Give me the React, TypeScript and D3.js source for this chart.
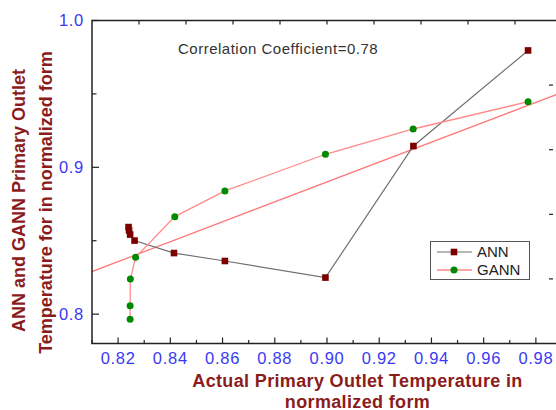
import * as d3 from "d3";
import React from "react";

// values
const annX = [0.824, 0.8242, 0.8246, 0.8263, 0.8414, 0.8609, 0.8994, 0.9331, 0.977];
const annY = [0.8593, 0.857, 0.8542, 0.8501, 0.8416, 0.8362, 0.8249, 0.9145, 0.9796];
const gannX = [0.8246, 0.8246, 0.8247, 0.8267, 0.8417, 0.8609, 0.8994, 0.933, 0.977];
const gannY = [0.7965, 0.8057, 0.8239, 0.8387, 0.8664, 0.8839, 0.9089, 0.9261, 0.9447];
const fitX = [0.81, 0.99];
const fitY = [0.829, 0.951];

const xMajor = [0.82, 0.84, 0.86, 0.88, 0.9, 0.92, 0.94, 0.96, 0.98];
const xMinor = [0.81, 0.83, 0.85, 0.87, 0.89, 0.91, 0.93, 0.95, 0.97];
const yMajor = [0.8, 0.9, 1.0];
const yMinor = [0.85, 0.95];

const width = 556;
const height = 410;
const font = "'Liberation Sans', Arial, sans-serif";
const titleColor = "#8b1c1c";
const tickColor = "#3a3af2";

export default function App() {
  const x = d3.scaleLinear().domain([0.81, 0.99]).range([92, 562]);
  const y = d3.scaleLinear().domain([0.78, 1.0]).range([343.5, 20.5]);
  // top / right axes of the frame carry plain division ticks
  const xTop = d3.scaleLinear().domain([0, 10]).range([92, 562]);
  const yRight = d3.scaleLinear().domain([0, 5]).range([343.5, 20.5]);

  const ann = annX.map((v, i) => [v, annY[i]] as [number, number]);
  const gann = gannX.map((v, i) => [v, gannY[i]] as [number, number]);
  const fit = fitX.map((v, i) => [v, fitY[i]] as [number, number]);

  const line = d3.line<[number, number]>()
    .x(d => x(d[0]))
    .y(d => y(d[1]));

  const [x0, x1] = x.range();
  const [yb, yt] = y.range();

  return (
    <svg width={width} height={height}
      style={{ position: "absolute", left: 0, top: 0, background: "#fff" }}
      fontFamily={font}>
      <defs>
        <clipPath id="plot">
          <rect x={x0} y={yt} width={x1 - x0} height={yb - yt} />
        </clipPath>
      </defs>

      <g clipPath="url(#plot)">
        <path d={line(fit) || ""} fill="none" stroke="#ff7b7b" strokeWidth={1.3} />
        <path d={line(ann) || ""} fill="none" stroke="#707070" strokeWidth={1.2} />
        <path d={line(gann) || ""} fill="none" stroke="#ff8a8a" strokeWidth={1.3} />
        {ann.map((d, i) => (
          <rect key={"a" + i} x={x(d[0]) - 3.3} y={y(d[1]) - 3.3} width={6.6} height={6.6} fill="#7d0000" />
        ))}
        {gann.map((d, i) => (
          <circle key={"g" + i} cx={x(d[0])} cy={y(d[1])} r={3.5} fill="#008a00" />
        ))}
      </g>

      {/* frame */}
      <path d={`M${x1},${yt}H${x0}V${yb}H${x1}`} fill="none" stroke="#222" strokeWidth={1.5} />

      {/* bottom ticks */}
      {xMajor.map(v => (
        <line key={"xM" + v} x1={x(v)} x2={x(v)} y1={yb} y2={yb - 6} stroke="#222" strokeWidth={1.2} />
      ))}
      {xMinor.map(v => (
        <line key={"xm" + v} x1={x(v)} x2={x(v)} y1={yb} y2={yb - 3.5} stroke="#222" strokeWidth={1.2} />
      ))}
      {xMajor.map(v => (
        <text key={"xl" + v} x={x(v)} y={364} textAnchor="middle" fontSize={16.5} letterSpacing={0.7} fill={tickColor}>
          {d3.format(".2f")(v)}
        </text>
      ))}

      {/* left ticks */}
      {yMajor.map(v => (
        <line key={"yM" + v} x1={x0} x2={x0 + 7} y1={y(v)} y2={y(v)} stroke="#222" strokeWidth={1.2} />
      ))}
      {yMinor.map(v => (
        <line key={"ym" + v} x1={x0} x2={x0 + 4.5} y1={y(v)} y2={y(v)} stroke="#222" strokeWidth={1.2} />
      ))}
      {yMajor.map(v => (
        <text key={"yl" + v} x={84} y={y(v)} dy="0.36em" textAnchor="end" fontSize={16.5} letterSpacing={0.7} fill={tickColor}>
          {d3.format(".1f")(v)}
        </text>
      ))}

      {/* top and right ticks */}
      {d3.range(1, 10).map(k => (
        <line key={"t" + k} x1={xTop(k)} x2={xTop(k)} y1={yt} y2={yt + 4} stroke="#222" strokeWidth={1.2} />
      ))}
      {d3.range(1, 5).map(k => (
        <line key={"r" + k} x1={x1 - 13} x2={x1 - 9} y1={yRight(k)} y2={yRight(k)} stroke="#222" strokeWidth={1.2} />
      ))}

      <text x={178} y={54} fontSize={15} letterSpacing={0.5} fill="#333">Correlation Coefficient=0.78</text>

      {/* axis titles */}
      <g fontWeight="bold" fontSize={18} fill={titleColor} textAnchor="middle">
        <text x={357.5} y={387} letterSpacing={0.35}>Actual Primary Outlet Temperature in</text>
        <text x={357.5} y={407.5} letterSpacing={0.35}>normalized form</text>
        <text transform="translate(25,200.5) rotate(-90)">ANN and GANN Primary Outlet</text>
        <text transform="translate(51.5,202.5) rotate(-90)">Temperature for in normalized form</text>
      </g>

      {/* legend */}
      <g>
        <rect x={430.5} y={241.5} width={99} height={38} fill="#fff" stroke="#555" strokeWidth={1} />
        <line x1={437} x2={472} y1={252} y2={252} stroke="#707070" strokeWidth={1.2} />
        <rect x={450.7} y={248.7} width={6.6} height={6.6} fill="#7d0000" />
        <text x={477} y={252} dy="0.36em" fontSize={15} fill="#222">ANN</text>
        <line x1={437} x2={472} y1={270} y2={270} stroke="#ff8a8a" strokeWidth={1.3} />
        <circle cx={454} cy={270} r={3.5} fill="#008a00" />
        <text x={477} y={270} dy="0.36em" fontSize={15} fill="#222">GANN</text>
      </g>
    </svg>
  );
}
